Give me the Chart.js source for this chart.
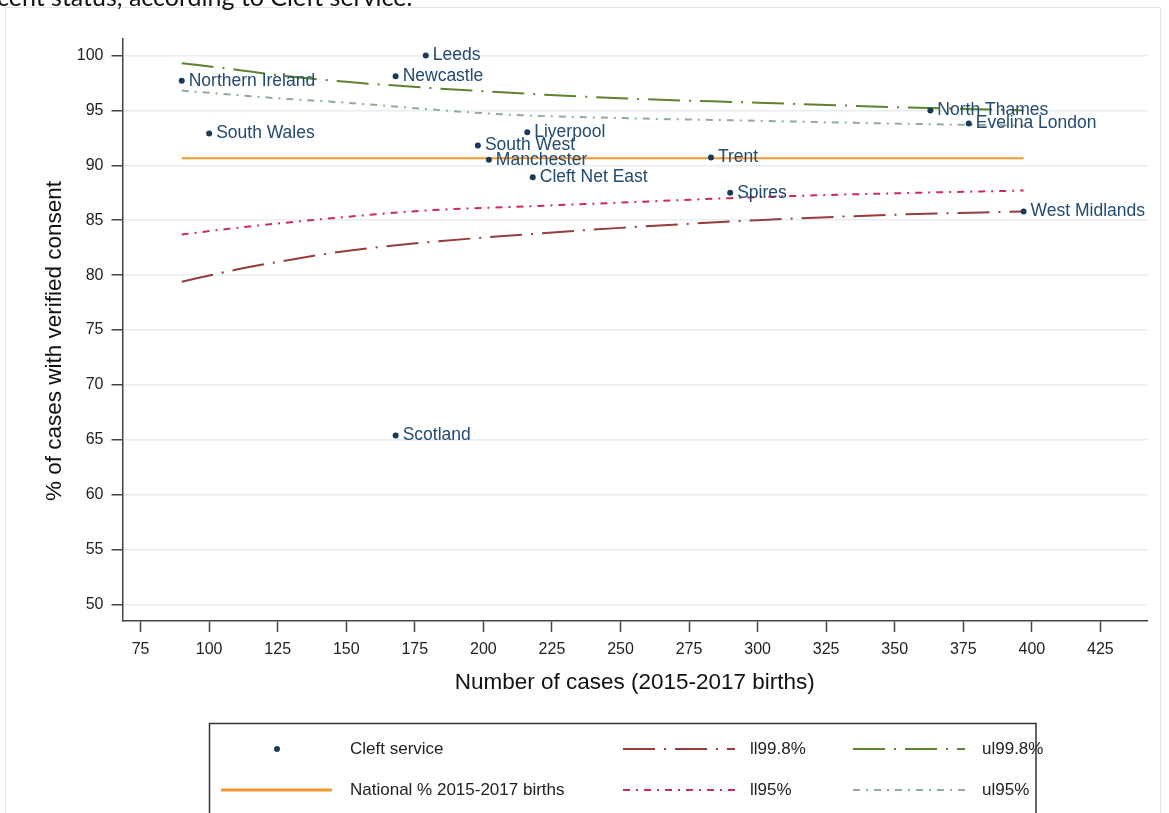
<!DOCTYPE html>
<html>
<head>
<meta charset="utf-8">
<title>Funnel plot - verified consent by Cleft service</title>
<script src="https://cdn.jsdelivr.net/npm/chart.js@4.4.1/dist/chart.umd.min.js"></script>
<style>
  html, body { margin: 0; padding: 0; background: #fff; }
  #wrap { position: relative; width: 1169px; height: 813px; overflow: hidden; }
</style>
</head>
<body>
<div id="wrap"><canvas id="funnelChart" width="1169" height="813"></canvas></div>
<script>
// Cleft services: number of cases (2015-2017 births) and % with verified consent
const services = ["Northern Ireland", "Leeds", "Newcastle", "South Wales", "Liverpool",
  "South West", "Manchester", "Cleft Net East", "Trent", "Spires", "North Thames",
  "Evelina London", "West Midlands", "Scotland"];
const cases = [90, 179, 168, 100, 216, 198, 202, 218, 283, 290, 363, 377, 397, 168];
const consentPct = [97.7, 100, 98.1, 92.9, 93.0, 91.8, 90.5, 88.9, 90.7, 87.5, 95.0, 93.8, 85.8, 65.4];

// National average
const nationalCases = [90, 397];
const nationalPct = [90.65, 90.65];

// Control limits
const limitCases = [90, 110, 125, 150, 180, 210, 250, 300, 350, 397];
const ll998 = [79.4, 80.5, 81.2, 82.2, 83.0, 83.6, 84.3, 85.0, 85.5, 85.8];
const ul998 = [99.3, 98.7, 98.2, 97.6, 97.05, 96.6, 96.1, 95.7, 95.3, 95.0];
const ll95 = [83.7, 84.3, 84.7, 85.3, 85.9, 86.2, 86.6, 87.1, 87.45, 87.7];
const ul95 = [96.8, 96.4, 96.1, 95.7, 95.1, 94.6, 94.3, 94.05, 93.8, 93.6];

// Tick labels
const xTicks = [75, 100, 125, 150, 175, 200, 225, 250, 275, 300, 325, 350, 375, 400, 425];
const yTicks = [50, 55, 60, 65, 70, 75, 80, 85, 90, 95, 100];

const FONT = "'Liberation Sans', Arial, sans-serif";
const NAVY = "#1a3a5c";

function toPoints(xs, ys) {
  return xs.map((x, i) => ({ x: x, y: ys[i] }));
}

function limitLine(label, values, color, dash) {
  return {
    type: "line",
    label: label,
    data: toPoints(limitCases, values),
    borderColor: color,
    borderWidth: 2,
    borderDash: dash,
    pointRadius: 0,
    fill: false,
    cubicInterpolationMode: "monotone"
  };
}

// Caption, frame, point labels, axis titles and legend box
const decorPlugin = {
  id: "decor",
  beforeDraw(chart) {
    const ctx = chart.ctx;
    ctx.save();
    ctx.fillStyle = "#fff";
    ctx.fillRect(0, 0, chart.width, chart.height);
    // faint outer frame of the graph
    ctx.strokeStyle = "#e6e6e6";
    ctx.lineWidth = 1;
    ctx.strokeRect(5.5, 7.5, 1155, 840);
    // caption text cut at the top of the page
    ctx.fillStyle = "#111";
    ctx.font = "25px Lato, 'Open Sans', sans-serif";
    ctx.textBaseline = "alphabetic";
    ctx.fillText("cent status, according to Cleft service.", -3, 6);
    ctx.restore();
  },
  afterDatasetsDraw(chart) {
    const ctx = chart.ctx;
    const area = chart.chartArea;
    ctx.save();

    // labels next to each service
    const meta = chart.getDatasetMeta(0);
    ctx.font = "17.5px " + FONT;
    ctx.fillStyle = "#234a70";
    ctx.textBaseline = "middle";
    ctx.textAlign = "left";
    meta.data.forEach((pt, i) => {
      ctx.fillText(services[i], pt.x + 7, pt.y);
    });

    // axis titles
    ctx.fillStyle = "#111";
    ctx.font = "22.5px " + FONT;
    ctx.textAlign = "center";
    ctx.fillText("Number of cases (2015-2017 births)", (area.left + area.right) / 2, 683);
    ctx.translate(55, 341);
    ctx.rotate(-Math.PI / 2);
    ctx.fillText("% of cases with verified consent", 0, 0);
    ctx.setTransform(1, 0, 0, 1, 0, 0);

    // legend box
    ctx.strokeStyle = "#333";
    ctx.lineWidth = 1.5;
    ctx.strokeRect(209.5, 723.5, 826.5, 120);

    const ds = chart.data.datasets;
    const items = [
      { d: ds[0], x1: 277, x2: 277, tx: 350, y: 749 },
      { d: ds[2], x1: 623, x2: 735, tx: 750, y: 749 },
      { d: ds[3], x1: 853, x2: 965, tx: 982, y: 749 },
      { d: ds[1], x1: 221, x2: 332, tx: 350, y: 790 },
      { d: ds[4], x1: 623, x2: 735, tx: 750, y: 790 },
      { d: ds[5], x1: 853, x2: 965, tx: 982, y: 790 }
    ];
    items.forEach((it) => {
      if (it.d.type === "scatter") {
        ctx.fillStyle = it.d.backgroundColor;
        ctx.beginPath();
        ctx.arc(it.x1, it.y, 3, 0, Math.PI * 2);
        ctx.fill();
      } else {
        ctx.strokeStyle = it.d.borderColor;
        ctx.lineWidth = it.d.type === "line" && it.d.borderDash ? 2 : 3;
        ctx.setLineDash(it.d.borderDash || []);
        ctx.beginPath();
        ctx.moveTo(it.x1, it.y);
        ctx.lineTo(it.x2, it.y);
        ctx.stroke();
        ctx.setLineDash([]);
      }
      ctx.fillStyle = "#222";
      ctx.font = "17px " + FONT;
      ctx.textAlign = "left";
      ctx.textBaseline = "middle";
      ctx.fillText(it.d.label, it.tx, it.y);
    });

    ctx.restore();
  }
};

const ctx = document.getElementById("funnelChart");

new Chart(ctx, {
  data: {
    datasets: [
      {
        type: "scatter",
        label: "Cleft service",
        data: toPoints(cases, consentPct),
        backgroundColor: NAVY,
        borderWidth: 0,
        pointRadius: 3
      },
      {
        type: "line",
        label: "National % 2015-2017 births",
        data: toPoints(nationalCases, nationalPct),
        borderColor: "#f29a2e",
        borderWidth: 2,
        pointRadius: 0,
        fill: false
      },
      limitLine("ll99.8%", ll998, "#973c3c", [32, 9, 2, 9]),
      limitLine("ul99.8%", ul998, "#5e832e", [32, 9, 2, 9]),
      limitLine("ll95%", ll95, "#cf2a55", [7, 6, 2, 6]),
      limitLine("ul95%", ul95, "#93ab9d", [7, 6, 2, 6])
    ]
  },
  options: {
    responsive: false,
    animation: false,
    layout: { padding: { left: 30, right: 22, top: 39, bottom: 113 } },
    plugins: {
      legend: { display: false },
      tooltip: { enabled: false }
    },
    scales: {
      x: {
        type: "linear",
        min: 68.4,
        max: 442,
        afterBuildTicks: (s) => { s.ticks = xTicks.map((v) => ({ value: v })); },
        afterFit: (s) => { s.height = 79; },
        grid: { drawOnChartArea: false, tickColor: "#444", tickLength: 11, tickWidth: 1.5 },
        border: { color: "#444", width: 1.5 },
        ticks: { font: { family: FONT, size: 16 }, color: "#222", padding: 8, autoSkip: false, maxRotation: 0 }
      },
      y: {
        type: "linear",
        min: 48.5,
        max: 101.5,
        afterBuildTicks: (s) => { s.ticks = yTicks.map((v) => ({ value: v })); },
        afterFit: (s) => { s.width = 92.5; },
        grid: { color: "#e6eef1", lineWidth: 1.5, tickColor: "#444", tickLength: 11, tickWidth: 1.5 },
        border: { color: "#444", width: 1.5 },
        ticks: { font: { family: FONT, size: 16 }, color: "#222", padding: 8 }
      }
    }
  },
  plugins: [decorPlugin]
});
</script>
</body>
</html>
